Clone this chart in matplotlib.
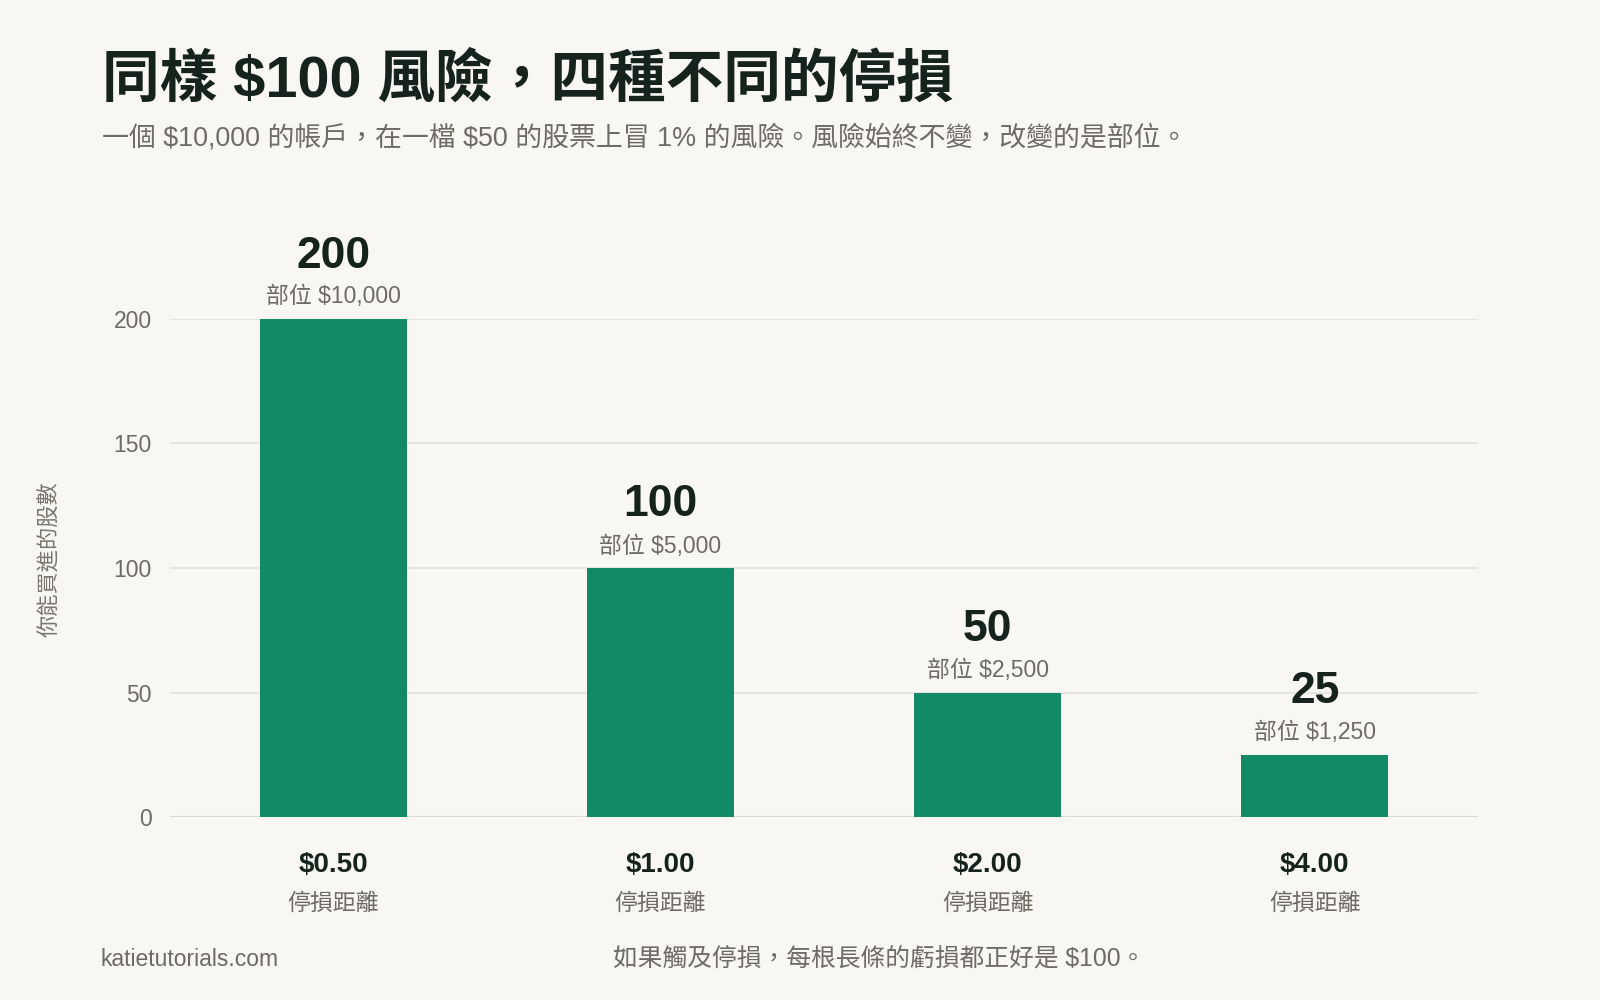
import matplotlib
matplotlib.use("Agg")
import matplotlib.pyplot as plt

# data
stop_labels = ["$0.50", "$1.00", "$2.00", "$4.00"]
shares = [200, 100, 50, 25]
position_labels = ["部位 $10,000", "部位 $5,000", "部位 $2,500", "部位 $1,250"]
y_ticks = [0, 50, 100, 150, 200]

BG = "#f8f7f4"
BAR = "#138a66"
DARK = "#16221c"
GRAY = "#6e6a64"
GRID = "#e4e2dd"

plt.rcParams["font.family"] = ["Liberation Sans", "Noto Sans CJK TC", "DejaVu Sans"]
plt.rcParams["text.parse_math"] = False

fig = plt.figure(figsize=(16, 10), dpi=100, facecolor=BG)
ax = fig.add_axes([0.106, 0.183, 0.818, 0.498])
ax.set_facecolor(BG)

x = list(range(len(shares)))
ax.bar(x, shares, width=0.45, color=BAR, zorder=3)

ax.set_xlim(-0.5, 3.5)
ax.set_ylim(0, 200)
ax.set_yticks(y_ticks)
ax.set_yticklabels([str(t) for t in y_ticks], fontsize=16.5, color=GRAY)
ax.tick_params(axis="y", length=0, pad=13)
ax.set_xticks([])
ax.grid(axis="y", color=GRID, linewidth=1.2, zorder=0)
for s in ax.spines.values():
    s.set_visible(False)
ax.axhline(0, color="#dcdad5", linewidth=1.5, zorder=2)

# value labels above bars
for i, (v, pos) in enumerate(zip(shares, position_labels)):
    ax.annotate(str(v), xy=(i, v), xytext=(0, 63), textcoords="offset pixels",
                ha="center", va="center", fontsize=32, fontweight="bold",
                color=DARK, annotation_clip=False)
    ax.annotate(pos, xy=(i, v), xytext=(0, 22), textcoords="offset pixels",
                ha="center", va="center", fontsize=16.5, color=GRAY,
                annotation_clip=False)

# category labels under bars
for i, lab in enumerate(stop_labels):
    ax.annotate(lab, xy=(i, 0), xycoords=ax.get_xaxis_transform(),
                xytext=(0, -48), textcoords="offset pixels",
                ha="center", va="center", fontsize=20, fontweight="bold",
                color=DARK, annotation_clip=False)
    ax.annotate("停損距離", xy=(i, 0), xycoords=ax.get_xaxis_transform(),
                xytext=(0, -86), textcoords="offset pixels",
                ha="center", va="center", fontsize=16.5, color=GRAY,
                annotation_clip=False)

fig.text(0.031, 0.441, "你能買進的股數", rotation=90, ha="center",
         va="center", fontsize=16, color="#7a766f")

# titles
fig.text(0.064, 0.903, "同樣 $100 風險，四種不同的停損", ha="left", va="baseline",
         fontsize=41.5, fontweight="bold", color=DARK)
fig.text(0.064, 0.862, "一個 $10,000 的帳戶，在一檔 $50 的股票上冒 1% 的風險。風險始終不變，改變的是部位。",
         ha="left", va="center", fontsize=19.4, color=GRAY)

# footer
fig.text(0.0625, 0.041, "katietutorials.com", ha="left", va="center",
         fontsize=16.5, color=GRAY)
fig.text(0.383, 0.041, "如果觸及停損，每根長條的虧損都正好是 $100。", ha="left",
         va="center", fontsize=17.8, color=GRAY)

fig.savefig("out.png", dpi=100, facecolor=BG)
